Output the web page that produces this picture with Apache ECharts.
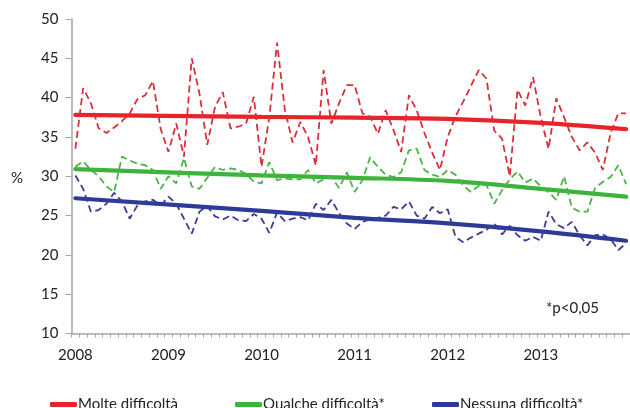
<!DOCTYPE html>
<html><head><meta charset="utf-8">
<script src="https://cdn.jsdelivr.net/npm/echarts@6/dist/echarts.min.js"></script>
<style>html,body{margin:0;padding:0;background:#fff}#c{width:630px;height:408px}</style>
</head><body><div id="c"></div><script>
// Categories: monthly, Jan 2008 .. Dec 2013
const years = ['2008','2009','2010','2011','2012','2013'];
const monthNames = ['01','02','03','04','05','06','07','08','09','10','11','12'];
const categories = [];
years.forEach(y => monthNames.forEach(m => categories.push(y + '-' + m)));

const yTicks = [10, 15, 20, 25, 30, 35, 40, 45, 50];

// Monthly values (dashed lines)
const molteMonthly = [
  33.5, 41.2, 39.3, 36.1, 35.5, 36.2, 37.0, 38.0, 39.8, 40.3, 42.1, 36.0,
  33.1, 36.7, 32.5, 45.0, 40.5, 34.0, 38.8, 40.7, 36.1, 36.3, 36.7, 40.1,
  31.2, 37.5, 47.0, 38.5, 34.3, 36.9, 35.0, 31.4, 43.5, 36.7, 39.3, 41.6,
  41.6, 38.0, 37.6, 35.4, 38.4, 35.9, 33.1, 40.3, 38.4, 35.5, 33.0, 30.8,
  35.0, 37.6, 39.5, 41.5, 43.5, 42.4, 35.8, 34.8, 30.0, 41.0, 39.0, 42.6,
  37.5, 33.5, 39.9, 37.5, 35.0, 33.3, 34.3, 33.0, 30.8, 35.5, 38.0, 38.0
];
const qualcheMonthly = [
  31.2, 31.9, 30.8, 30.0, 28.7, 28.0, 32.5, 32.0, 31.6, 31.4, 30.8, 28.4,
  30.0, 29.1, 32.3, 28.7, 28.4, 29.8, 31.2, 30.8, 31.0, 30.8, 30.3, 29.3,
  29.1, 31.8, 29.5, 29.7, 29.6, 29.6, 30.8, 29.1, 29.6, 29.9, 28.5, 30.5,
  28.0, 29.5, 32.4, 31.2, 30.2, 29.9, 30.5, 33.3, 33.5, 30.8, 30.2, 29.9,
  30.8, 30.2, 28.8, 28.0, 28.8, 28.9, 26.5, 28.2, 29.6, 30.6, 29.2, 29.7,
  28.7, 28.0, 27.0, 30.0, 26.0, 25.5, 25.5, 28.5, 29.3, 29.9, 31.4, 29.0
];
const nessunaMonthly = [
  30.1, 28.4, 25.5, 25.7, 26.5, 27.9, 26.8, 24.6, 26.3, 26.8, 27.0, 26.3,
  27.4, 26.5, 24.6, 22.7, 25.5, 26.2, 24.9, 24.5, 25.0, 24.4, 24.3, 25.2,
  24.6, 22.8, 25.4, 24.3, 24.6, 24.8, 24.4, 26.5, 25.7, 27.0, 25.3, 24.0,
  23.3, 24.2, 24.5, 24.7, 25.0, 26.1, 25.8, 26.8, 25.0, 24.6, 26.1, 25.3,
  25.8, 22.3, 21.6, 22.2, 22.7, 23.2, 24.0, 22.6, 23.7, 22.5, 21.8, 22.3,
  21.8, 25.5, 23.9, 23.4, 24.2, 22.5, 21.2, 22.5, 22.6, 22.0, 20.6, 21.5
];

// Trend lines: [month index, value] read at a few points
const molteTrend   = [[0, 37.8], [24, 37.55], [36, 37.45], [48, 37.3], [60, 36.8], [71, 36.0]];
const qualcheTrend = [[0, 30.9], [24, 30.1], [36, 29.8], [48, 29.4], [60, 28.4], [71, 27.4]];
const nessunaTrend = [[0, 27.2], [24, 25.6], [36, 24.7], [48, 24.0], [60, 23.0], [71, 21.8]];

const names = ['Molte difficoltà', 'Qualche difficoltà*', 'Nessuna difficoltà*'];
const trendColors = ['#e8232a', '#3cb43c', '#2e3a98'];
const dashColors = ['#d8303a', '#4ab545', '#3a3c9c'];
const FONT = 'Lato';

const chart = echarts.init(document.getElementById('c'), null, {renderer: 'canvas'});

function trendSeries(name, data, color) {
  return {name, type: 'line', data, smooth: 0.35, showSymbol: false, symbol: 'none',
    lineStyle: {color, width: 4.2, cap: 'round'}, itemStyle: {color}, z: 2, animation: false};
}
function dashSeries(name, data, color) {
  return {name, type: 'line', data, showSymbol: false, symbol: 'none',
    lineStyle: {color, width: 1.8, type: [7, 4]}, itemStyle: {color}, z: 3, animation: false};
}

const legendBase = {top: 392, orient: 'horizontal', icon: 'roundRect', itemWidth: 27, itemHeight: 5,
  itemGap: 4, textStyle: {fontFamily: FONT, fontSize: 15, color: '#222', padding: [0, 0, 0, -4]}};

chart.setOption({
  animation: false,
  backgroundColor: '#fff',
  grid: {left: 71.5, top: 19, width: 566.6, height: 314.5, containLabel: false},
  xAxis: {
    type: 'category', data: categories, boundaryGap: true,
    axisLine: {lineStyle: {color: '#a6a6a6', width: 1.5}},
    axisTick: {show: true, interval: 0, length: 4, lineStyle: {color: '#a6a6a6'}},
    axisLabel: {interval: 11, margin: 14, fontFamily: FONT, fontSize: 15, color: '#222',
      formatter: v => v.slice(0, 4)},
    splitLine: {show: false}
  },
  yAxis: {
    type: 'value', min: yTicks[0], max: yTicks[yTicks.length - 1], interval: 5,
    axisLine: {show: true, lineStyle: {color: '#a6a6a6', width: 1.5}},
    axisTick: {show: true, length: 6, lineStyle: {color: '#a6a6a6'}},
    axisLabel: {margin: 13, fontFamily: FONT, fontSize: 15, color: '#222'},
    splitLine: {show: false}
  },
  legend: [
    Object.assign({}, legendBase, {left: 45, data: [names[0]]}),
    Object.assign({}, legendBase, {left: 230, data: [names[1]]}),
    Object.assign({}, legendBase, {left: 427, data: [names[2]]})
  ],
  graphic: [
    {type: 'text', left: 11, top: 171, style: {text: '%', fontFamily: FONT, fontSize: 15, fill: '#222'}},
    {type: 'text', left: 546, top: 301, style: {text: '*p<0,05', fontFamily: FONT, fontSize: 15, fill: '#222'}}
  ],
  series: [
    trendSeries(names[0], molteTrend, trendColors[0]),
    trendSeries(names[1], qualcheTrend, trendColors[1]),
    trendSeries(names[2], nessunaTrend, trendColors[2]),
    dashSeries(names[0] + ' mensile', molteMonthly, dashColors[0]),
    dashSeries(names[1] + ' mensile', qualcheMonthly, dashColors[1]),
    dashSeries(names[2] + ' mensile', nessunaMonthly, dashColors[2])
  ]
});
</script></body></html>
